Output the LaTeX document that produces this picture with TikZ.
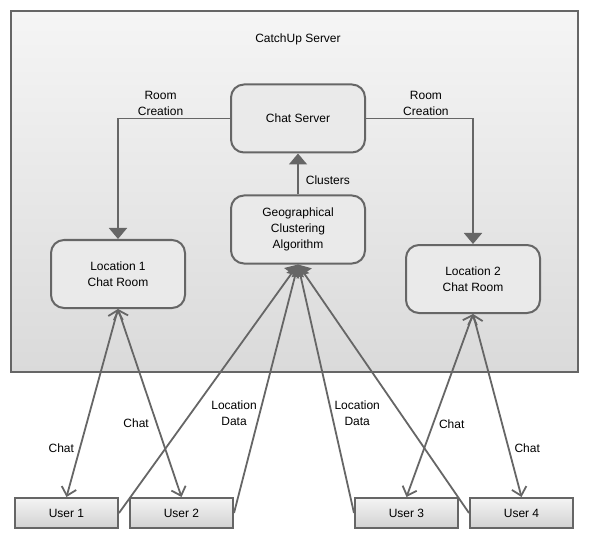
\documentclass[tikz,border=0pt]{standalone}
\usepackage{fontspec}
\setmainfont{Liberation Sans}
\usetikzlibrary{arrows.meta,positioning}
\definecolor{linegray}{HTML}{666666}
\definecolor{outertop}{HTML}{F5F5F5}
\definecolor{outerbottom}{HTML}{DADADA}
\definecolor{boxgray}{HTML}{EAEAEA}
\definecolor{usertop}{HTML}{F4F4F4}
\definecolor{userbottom}{HTML}{D2D2D2}

\begin{document}
\begin{tikzpicture}[x=1bp,y=-1bp,
		font=\fontsize{12bp}{16bp}\selectfont,
		roundbox/.style={draw=linegray,line width=2bp,rounded corners=13bp,fill=boxgray,
			minimum width=134bp,minimum height=68bp,align=center,inner sep=0pt},
		userbox/.style={draw=linegray,line width=2bp,top color=usertop,bottom color=userbottom,
			minimum width=103bp,minimum height=30bp,inner sep=0pt},
		conn/.style={draw=linegray,line width=1.8bp},
		block/.style={-{Triangle[width=18bp,length=11bp]}},
		chat/.style={{Straight Barb[width=15bp,length=8bp]}-{Straight Barb[width=15bp,length=8bp]}},
		lbl/.style={align=center,inner sep=2bp}]
	\useasboundingbox (0,0) rectangle (589,544);

	%server frame
	\draw[linegray,line width=2bp,top color=outertop,bottom color=outerbottom] (11,11) rectangle (578,372);
	\node (title) at (298,39) {CatchUp Server};

	%boxes inside the server
	\node[roundbox] (chat) at (298,118.5) {Chat Server};
	\node[roundbox] (geo) at (298,229.5) {Geographical\\Clustering\\Algorithm};
	\node[roundbox] (loc1) at (118,274) {Location 1\\Chat Room};
	\node[roundbox] (loc2) at (473,279) {Location 2\\Chat Room};

	%users
	\node[userbox] (user1) at (66.5,513) {User 1};
	\node[userbox] (user2) at (181.5,513) {User 2};
	\node[userbox] (user3) at (406.5,513) {User 3};
	\node[userbox] (user4) at (521.5,513) {User 4};

	%room creation
	\draw[conn,block] (chat.west) -| node[pos=0.31,above,lbl] {Room\\Creation} (loc1.north);
	\draw[conn,block] (chat.east) -| node[pos=0.28,above,lbl] {Room\\Creation} (loc2.north);

	%clusters
	\draw[conn,block] (geo.north) -- node[pos=0.36,right,inner sep=7bp] {Clusters} (chat.south);

	%location data
	\draw[conn,block] (user1.east) -- (geo.south);
	\draw[conn,block] (user2.east) -- node[pos=0.4,left,lbl] {Location\\Data} (geo.south);
	\draw[conn,block] (user3.west) -- node[pos=0.4,right,lbl] {Location\\Data} (geo.south);
	\draw[conn,block] (user4.west) -- (geo.south);

	%chat
	\draw[conn,chat] (loc1.south) -- node[pos=0.74,left,inner sep=5bp] {Chat} (user1.north);
	\draw[conn,chat] (loc1.south) -- node[pos=0.61,left,inner sep=7bp] {Chat} (user2.north);
	\draw[conn,chat] (loc2.south) -- node[pos=0.6,right,inner sep=5bp] {Chat} (user3.north);
	\draw[conn,chat] (loc2.south) -- node[pos=0.735,right,inner sep=5bp] {Chat} (user4.north);
\end{tikzpicture}
\end{document}
